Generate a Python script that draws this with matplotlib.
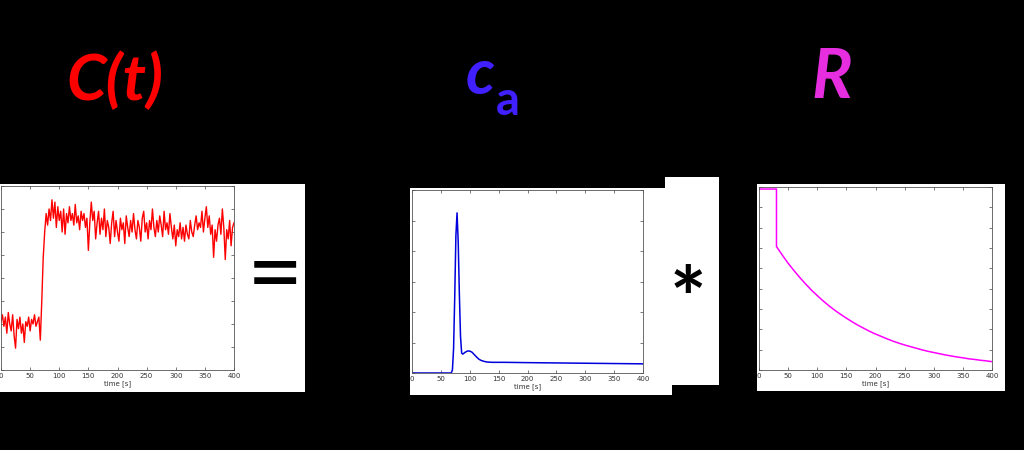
import numpy as np
import matplotlib
matplotlib.use("Agg")
import matplotlib.pyplot as plt
from matplotlib.patches import Rectangle

# ---------------- data ----------------
time_ticks = [0, 50, 100, 150, 200, 250, 300, 350, 400]
tick_labels = ["0", "50", "100", "150", "200", "250", "300", "350", "400"]

# C(t): tissue curve sampled every 2.5 s from 0 to 400 s
ct_step = 2.5
ct_values = [
    2.1, 2.4, 1.9, 2.3, 1.6, 2.5, 2.0, 1.7, 2.4, 1.5,
    0.95, 2.2, 1.8, 2.3, 1.6, 2.0, 1.2, 2.1, 1.9, 2.3,
    1.7, 2.2, 2.0, 2.4, 1.9, 2.1,
    2.3, 1.3, 3.0, 4.9, 6.0, 6.8, 6.3, 7.0, 6.5, 7.4,
    6.6, 7.3, 6.2, 7.1, 6.5, 6.9, 6.0, 7.0, 5.9, 6.8,
    6.4, 7.1, 6.5, 6.8, 6.3, 7.2, 6.4, 6.7, 6.1, 6.9,
    6.5, 6.8, 6.2, 6.6, 5.2, 6.4, 7.3, 6.5, 6.9, 5.7,
    6.4, 6.9, 5.9, 6.6, 6.1, 7.0, 5.8, 6.5, 6.2, 5.5,
    6.4, 6.9, 5.8, 6.5, 6.0, 5.6, 6.6, 6.1, 6.4, 5.5,
    6.7, 6.2, 5.8, 6.5, 6.0, 6.8, 6.1, 5.7, 6.5, 6.2,
    5.6, 6.6, 6.9, 6.0, 6.4, 5.7, 6.5, 6.1, 7.0, 6.2,
    5.8, 6.5, 6.0, 6.7, 6.3, 5.8, 6.9, 6.1, 6.4, 5.9,
    6.8, 6.2, 5.7, 6.3, 5.4, 6.1, 5.8, 6.4, 5.7, 6.2,
    5.6, 6.3, 5.9, 5.7, 6.5, 6.0, 5.8, 6.3, 6.7, 6.1,
    6.4, 6.2, 6.9, 6.0, 6.6, 7.1, 6.2, 6.7, 5.9, 6.3,
    4.9, 6.1, 5.6, 6.3, 6.6, 5.9, 7.0, 6.2, 4.8, 6.1,
    5.7, 6.5, 5.4, 6.2, 6.4,
]

# c_a: arterial input function
ca_time = [0, 68, 70, 72, 74, 76, 78, 80, 82, 84, 86, 88, 92, 96, 100,
           104, 108, 112, 116, 120, 125, 130, 140, 160, 200, 250, 300, 350, 400]
ca_values = [0, 0, 0.1, 0.8, 2.5, 4.5, 5.25, 4.3, 2.6, 1.2, 0.65, 0.62, 0.68,
             0.72, 0.72, 0.68, 0.6, 0.52, 0.45, 0.41, 0.38, 0.36, 0.35, 0.35,
             0.34, 0.33, 0.32, 0.31, 0.30]

# R: residue function
r_time = [0, 30, 30, 40, 50, 60, 70, 80, 90, 100, 110, 120, 130, 140, 150,
          160, 170, 180, 190, 200, 210, 220, 230, 240, 250, 260, 270, 280,
          290, 300, 310, 320, 330, 340, 350, 360, 370, 380, 390, 400]
r_values = [8.9, 8.9, 6.07, 5.65, 5.25, 4.89, 4.55, 4.23, 3.93, 3.66, 3.40,
            3.16, 2.94, 2.74, 2.55, 2.37, 2.20, 2.05, 1.90, 1.77, 1.65, 1.53,
            1.42, 1.32, 1.23, 1.15, 1.07, 0.99, 0.92, 0.86, 0.80, 0.74, 0.69,
            0.64, 0.60, 0.55, 0.52, 0.48, 0.45, 0.41]

W, H = 1024, 450
fig = plt.figure(figsize=(W / 100, H / 100), dpi=100, facecolor="black")


def px_rect(x0, y0, x1, y1):
    fig.add_artist(Rectangle((x0 / W, 1 - y1 / H), (x1 - x0) / W, (y1 - y0) / H,
                             transform=fig.transFigure, facecolor="white",
                             edgecolor="none", zorder=-5))


def px_axes(x0, y0, x1, y1):
    return fig.add_axes([x0 / W, 1 - y1 / H, (x1 - x0) / W, (y1 - y0) / H])


# white panels
px_rect(0, 184, 305, 392)
px_rect(410, 188, 672, 395)
px_rect(665, 177, 719, 385)
px_rect(757, 184, 1005, 391)


def style(ax, ymax):
    ax.set_xlim(0, 400)
    ax.set_ylim(0, ymax)
    ax.set_xticks(time_ticks)
    ax.set_xticklabels(tick_labels)
    ax.set_yticks(np.arange(0, ymax + 1))
    ax.tick_params(direction="in", length=2.5, width=0.5, top=True, right=True,
                   labelsize=5, labelcolor="#333333", pad=2,
                   labelleft=False, color="#444444")
    for s in ax.spines.values():
        s.set_linewidth(0.6)
        s.set_color("#555555")
    ax.set_xlabel("time [s]", fontsize=5, color="#333333", labelpad=1)
    ax.set_facecolor("white")


ax1 = px_axes(1, 186, 234, 370)
ct_time = np.arange(len(ct_values)) * ct_step
ax1.plot(ct_time, ct_values, color="#FF0000", lw=1.0)
style(ax1, 8)

ax2 = px_axes(412, 190, 643, 373)
ax2.plot(ca_time, ca_values, color="#0000DD", lw=1.1)
style(ax2, 6)

ax3 = px_axes(759, 187, 992, 370)
ax3.plot(r_time, r_values, color="#FF00FF", lw=1.1)
style(ax3, 9)

# labels
fam = ["Lato", "DejaVu Sans"]
fig.text(115 / W, 1 - 100 / H, "C(t)", color="#FF0000", fontsize=46,
         fontweight="bold", fontstyle="italic", family=fam,
         ha="center", va="baseline")
fig.text(480 / W, 1 - 94 / H, "c", color="#4020FF", fontsize=46,
         fontweight="bold", fontstyle="italic", family=fam,
         ha="center", va="baseline")
fig.text(508 / W, 1 - 115 / H, "a", color="#4020FF", fontsize=34,
         fontweight="bold", family=fam, ha="center", va="baseline")
fig.text(832 / W, 1 - 98 / H, "R", color="#E62EE0", fontsize=49,
         fontweight="bold", fontstyle="italic", family=fam,
         ha="center", va="baseline")
fig.text(275 / W, 1 - 305 / H, "=", color="black", fontsize=70,
         family=fam, ha="center", va="baseline")
fig.text(688 / W, 1 - 329 / H, "*", color="black", fontsize=62,
         fontweight="bold", family=fam, ha="center", va="baseline")

fig.savefig("out.png", dpi=100, facecolor="black")
